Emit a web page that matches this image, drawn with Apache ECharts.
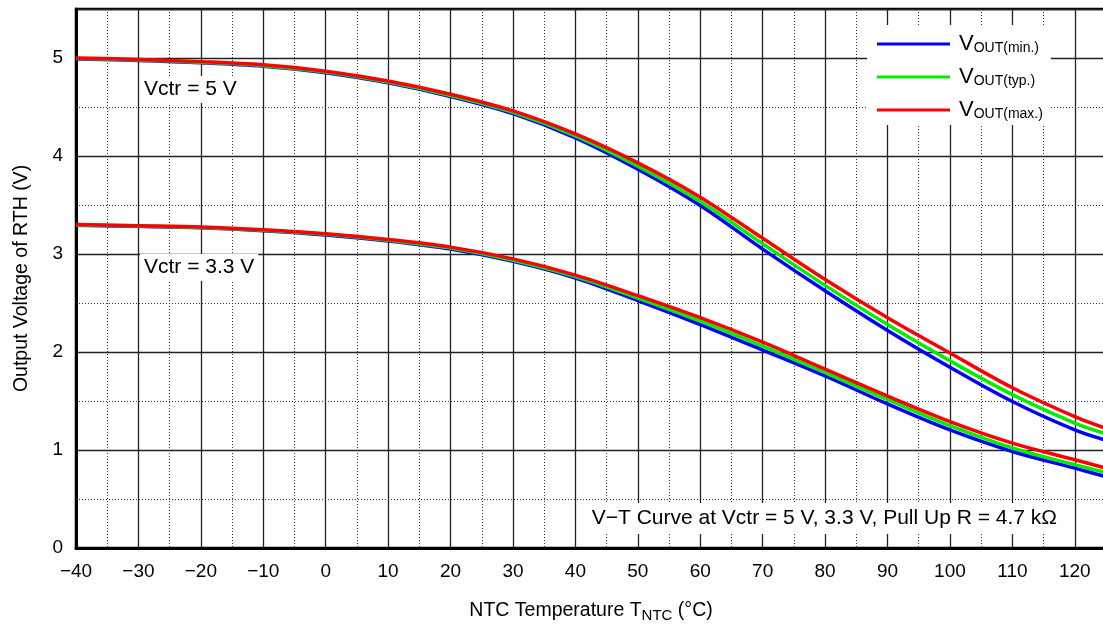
<!DOCTYPE html>
<html>
<head>
<meta charset="utf-8">
<script src="https://cdn.jsdelivr.net/npm/echarts@6/dist/echarts.min.js"></script>
<style>
  html, body { margin: 0; padding: 0; background: #fff; }
  #chart { width: 1103px; height: 626px; }
</style>
</head>
<body>
<div id="chart"></div>
<script>
// 温度点 (°C)
const temps = [-40, -30, -20, -10, 0, 10, 20, 30, 40, 50, 60, 70, 80, 90, 100, 110, 120, 125];

// Vctr = 5 V
const v5Max = [5.00, 4.985, 4.963, 4.93, 4.865, 4.765, 4.63, 4.46, 4.225, 3.93, 3.58, 3.16, 2.74, 2.35, 1.99, 1.635, 1.34, 1.22];
const v5Typ = [4.995, 4.98, 4.957, 4.922, 4.857, 4.755, 4.617, 4.445, 4.205, 3.895, 3.535, 3.105, 2.68, 2.28, 1.91, 1.565, 1.275, 1.165];
const v5Min = [4.99, 4.975, 4.952, 4.916, 4.85, 4.747, 4.607, 4.432, 4.185, 3.865, 3.495, 3.05, 2.625, 2.22, 1.845, 1.495, 1.205, 1.10];

// Vctr = 3.3 V
const v33Max = [3.30, 3.289, 3.276, 3.248, 3.207, 3.148, 3.07, 2.95, 2.785, 2.575, 2.35, 2.10, 1.825, 1.55, 1.29, 1.07, 0.90, 0.815];
const v33Typ = [3.297, 3.285, 3.271, 3.243, 3.201, 3.14, 3.06, 2.937, 2.77, 2.55, 2.315, 2.06, 1.79, 1.515, 1.248, 1.02, 0.85, 0.77];
const v33Min = [3.294, 3.282, 3.267, 3.238, 3.195, 3.133, 3.05, 2.925, 2.755, 2.525, 2.28, 2.02, 1.755, 1.47, 1.205, 0.985, 0.815, 0.728];

const legendNames = ['min', 'typ', 'max'];
const legendLabels = {
  min: '{v|V}{s|OUT(min.)}',
  typ: '{v|V}{s|OUT(typ.)}',
  max: '{v|V}{s|OUT(max.)}'
};

const FONT = '"Liberation Sans", Arial, Helvetica, sans-serif';

const chart = echarts.init(document.getElementById('chart'));

function pairs(vals) {
  return temps.map((t, i) => [t, vals[i]]);
}

function line(name, vals, color) {
  return {
    name: name,
    type: 'line',
    data: pairs(vals),
    smooth: 0.35,
    showSymbol: false,
    symbol: 'none',
    xAxisIndex: 0,
    yAxisIndex: 0,
    lineStyle: { color: color, width: 3.5 },
    itemStyle: { color: color },
    z: 5
  };
}

const option = {
  animation: false,
  textStyle: { fontFamily: FONT, color: '#000' },
  grid: {
    left: 76, top: 9, right: -3, bottom: 78,
    outerBoundsMode: 'none',
    containLabel: false,
    show: true, borderColor: '#000', borderWidth: 2.5, backgroundColor: 'transparent'
  },
  legend: {
    data: legendNames,
    orient: 'vertical',
    left: 867,
    top: 25,
    icon: 'rect',
    itemWidth: 73,
    itemHeight: 3,
    itemGap: 7,
    padding: [4, 8, 4, 10],
    backgroundColor: '#fff',
    formatter: n => legendLabels[n],
    textStyle: {
      fontFamily: FONT,
      rich: {
        v: { fontSize: 22, lineHeight: 22, verticalAlign: 'top', padding: [0, 0, 0, 4], fontFamily: FONT, color: '#000' },
        s: { fontSize: 14, lineHeight: 14, verticalAlign: 'bottom', padding: [12, 0, 0, 0], fontFamily: FONT, color: '#000' }
      }
    },
    z: 10
  },
  xAxis: [
    {
      type: 'value',
      min: -40,
      max: 125,
      interval: 10,
      position: 'bottom',
      name: '{a|NTC Temperature T}{s|NTC}{a| (°C)}',
      nameLocation: 'middle',
      nameGap: 53,
      nameTextStyle: {
        rich: {
          a: { fontSize: 19.5, lineHeight: 22, verticalAlign: 'top', fontFamily: FONT, color: '#000' },
          s: { fontSize: 15, lineHeight: 15, verticalAlign: 'bottom', padding: [12, 0, 0, 0], fontFamily: FONT, color: '#000' }
        }
      },
      axisLine: { show: true, onZero: false, lineStyle: { color: '#000', width: 3 } },
      axisTick: { show: false },
      axisLabel: {
        fontSize: 19,
        margin: 14,
        color: '#000',
        formatter: v => (v % 10 === 0 ? String(v).replace('-', '\u2212') : '')
      },
      splitLine: { show: true, lineStyle: { color: '#222', width: 1.3, type: 'solid' } },
      z: 3
    },
    {
      type: 'value',
      min: -40,
      max: 125,
      interval: 5,
      position: 'top',
      axisLine: { show: false },
      axisTick: { show: false },
      axisLabel: { show: false },
      splitLine: { show: true, lineStyle: { color: '#333', width: 1, type: [1, 2] } },
      z: 1
    }
  ],
  yAxis: [
    {
      type: 'value',
      min: 0,
      max: 5.5,
      interval: 1,
      position: 'left',
      name: 'Output Voltage of RTH (V)',
      nameLocation: 'middle',
      nameGap: 44,
      nameTextStyle: { fontSize: 19.5, color: '#000', fontFamily: FONT },
      axisLine: { show: true, onZero: false, lineStyle: { color: '#000', width: 3 } },
      axisTick: { show: false },
      axisLabel: {
        fontSize: 19,
        margin: 13,
        color: '#000',
        formatter: v => (v % 1 === 0 ? String(v) : '')
      },
      splitLine: { show: true, lineStyle: { color: '#222', width: 1.3, type: 'solid' } },
      z: 3
    },
    {
      type: 'value',
      min: 0,
      max: 5.5,
      interval: 0.5,
      position: 'right',
      axisLine: { show: false },
      axisTick: { show: false },
      axisLabel: { show: false },
      splitLine: { show: true, lineStyle: { color: '#333', width: 1, type: [1, 2] } },
      z: 1
    }
  ],
  graphic: [
    {
      type: 'text', left: 140, top: 76, z: 20,
      style: { text: 'Vctr = 5 V', font: '21px ' + FONT, fill: '#000', backgroundColor: '#fff', padding: [3, 4] }
    },
    {
      type: 'text', left: 140, top: 254, z: 20,
      style: { text: 'Vctr = 3.3 V', font: '21px ' + FONT, fill: '#000', backgroundColor: '#fff', padding: [3, 4] }
    },
    {
      type: 'text', right: 40, top: 503, z: 20,
      style: { text: 'V\u2212T Curve at Vctr = 5 V, 3.3 V, Pull Up R = 4.7 k\u03a9', font: '21px ' + FONT, fill: '#000', backgroundColor: '#fff', padding: [5, 6] }
    }
  ],
  series: [
    line('min', v5Min, '#0000ff'),
    line('typ', v5Typ, '#00ee00'),
    line('max', v5Max, '#ff0000'),
    line('min', v33Min, '#0000ff'),
    line('typ', v33Typ, '#00ee00'),
    line('max', v33Max, '#ff0000')
  ]
};

option && chart.setOption(option);
</script>
</body>
</html>
